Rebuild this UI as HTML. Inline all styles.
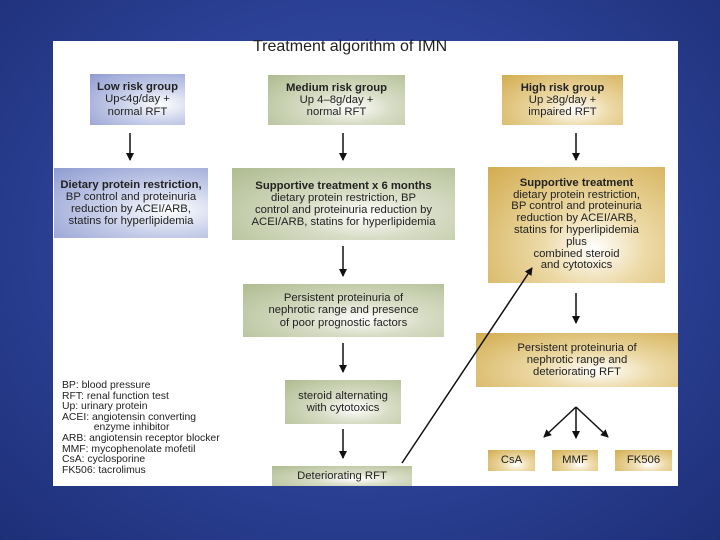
<!DOCTYPE html>
<html><head><style>
body{margin:0;width:720px;height:540px;overflow:hidden;background:radial-gradient(ellipse at 50% 45%,#3c56b0 0%,#2b4195 55%,#1e2f78 100%);font-family:"Liberation Sans",sans-serif;}
#p{position:absolute;left:53px;top:41px;width:625px;height:445px;background:#fff;}
.b{position:absolute;box-sizing:border-box;text-align:center;color:#222;font-size:11.3px;line-height:12.2px;display:flex;flex-direction:column;justify-content:center;white-space:nowrap;}
.bl{background:radial-gradient(ellipse at 75% 60%,#ffffff 0%,#c9d0ea 40%,#8e9bd0 100%);}
.gr{background:radial-gradient(ellipse at 60% 65%,#ffffff 0%,#d8ddc6 35%,#aebb8f 100%);}
.go{background:radial-gradient(ellipse at 60% 70%,#ffffff 0%,#ecd9a6 35%,#d2ac4e 100%);}
b{font-weight:bold}
#leg{position:absolute;left:62px;top:381px;font-size:10.4px;line-height:10.6px;color:#222;white-space:nowrap;}
</style></head><body>
<div id="p"></div>
<div style="position:absolute;left:253px;top:38px;font-size:16px;color:#222;">Treatment algorithm of IMN</div>
<div class="b bl" style="left:90px;top:74px;width:95px;height:51px"><b>Low risk group</b>Up&lt;4g/day +<br>normal RFT</div>
<div class="b gr" style="left:268px;top:75px;width:137px;height:50px"><b>Medium risk group</b>Up 4–8g/day +<br>normal RFT</div>
<div class="b go" style="left:502px;top:75px;width:121px;height:50px"><b>High risk group</b>Up ≥8g/day +<br>impaired RFT</div>
<div class="b bl" style="left:54px;top:168px;width:154px;height:70px"><b>Dietary protein restriction,</b>BP control and proteinuria<br>reduction by ACEI/ARB,<br>statins for hyperlipidemia</div>
<div class="b gr" style="left:232px;top:168px;width:223px;height:72px"><b>Supportive treatment x 6 months</b>dietary protein restriction, BP<br>control and proteinuria reduction by<br>ACEI/ARB, statins for hyperlipidemia</div>
<div class="b go" style="left:488px;top:167px;width:177px;height:116px;line-height:11.8px"><b>Supportive treatment</b>dietary protein restriction,<br>BP control and proteinuria<br>reduction by ACEI/ARB,<br>statins for hyperlipidemia<br>plus<br>combined steroid<br>and cytotoxics</div>
<div class="b gr" style="left:243px;top:284px;width:201px;height:53px">Persistent proteinuria of<br>nephrotic range and presence<br>of poor prognostic factors</div>
<div class="b gr" style="left:285px;top:380px;width:116px;height:44px">steroid alternating<br>with cytotoxics</div>
<div class="b gr" style="left:272px;top:466px;width:140px;height:20px">Deteriorating RFT</div>
<div class="b go" style="left:476px;top:333px;width:202px;height:54px">Persistent proteinuria of<br>nephrotic range and<br>deteriorating RFT</div>
<div class="b go" style="left:488px;top:450px;width:47px;height:21px">CsA</div>
<div class="b go" style="left:552px;top:450px;width:46px;height:21px">MMF</div>
<div class="b go" style="left:615px;top:450px;width:57px;height:21px">FK506</div>
<div id="leg">BP: blood pressure<br>RFT: renal function test<br>Up: urinary protein<br>ACEI: angiotensin converting<br>&nbsp;&nbsp;&nbsp;&nbsp;&nbsp;&nbsp;&nbsp;&nbsp;&nbsp;&nbsp;&nbsp;enzyme inhibitor<br>ARB: angiotensin receptor blocker<br>MMF: mycophenolate mofetil<br>CsA: cyclosporine<br>FK506: tacrolimus</div>
<svg width="720" height="540" style="position:absolute;left:0;top:0">
<defs><marker id="a" markerWidth="8" markerHeight="8" refX="7" refY="4" orient="auto" markerUnits="userSpaceOnUse"><path d="M0,0 L8,4 L0,8 Z" fill="#111"/></marker></defs>
<g stroke="#111" stroke-width="1.5" fill="none" marker-end="url(#a)">
<line x1="130" y1="133" x2="130" y2="160"/>
<line x1="343" y1="133" x2="343" y2="160"/>
<line x1="576" y1="133" x2="576" y2="160"/>
<line x1="343" y1="246" x2="343" y2="276"/>
<line x1="343" y1="343" x2="343" y2="372"/>
<line x1="343" y1="429" x2="343" y2="458"/>
<line x1="576" y1="293" x2="576" y2="323"/>
<line x1="402" y1="463" x2="532" y2="268"/>
<line x1="576" y1="407" x2="544" y2="437"/>
<line x1="576" y1="407" x2="576" y2="438"/>
<line x1="576" y1="407" x2="608" y2="437"/>
</g></svg>
</body></html>
